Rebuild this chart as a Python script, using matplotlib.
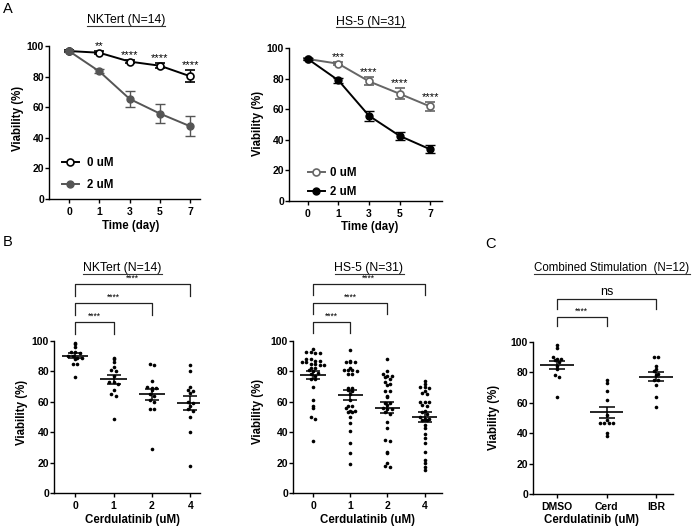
import numpy as np
import matplotlib
matplotlib.use("Agg")
import matplotlib.pyplot as plt
from matplotlib.lines import Line2D

plt.rcParams["font.family"] = ["Liberation Sans", "DejaVu Sans"]
plt.rcParams["axes.linewidth"] = 1.0

W, H = 692, 528  # output size in pixels

# Panel A: viability over time, mean and SEM
days = ["0", "1", "3", "5", "7"]
nk_ctrl = [96.7, 95.6, 89.8, 87.1, 80.2]
nk_ctrl_sem = [0.5, 1.0, 1.2, 1.6, 4.0]
nk_cerd = [96.7, 83.4, 65.4, 55.8, 47.5]
nk_cerd_sem = [0.5, 1.3, 5.4, 6.0, 6.5]
nk_time_stars = ["", "**", "****", "****", "****"]

hs_ctrl = [92.8, 89.7, 78.2, 70.1, 61.8]
hs_ctrl_sem = [0.5, 1.0, 2.6, 3.6, 3.0]
hs_cerd = [92.8, 78.8, 55.7, 42.6, 33.8]
hs_cerd_sem = [0.5, 1.8, 3.3, 2.8, 2.6]
hs_time_stars = ["", "***", "****", "****", "****"]

# Panel B: viability at each dose, one value per sample
doses = ["0", "1", "2", "4"]
nk_dose_0 = [99, 98, 96, 93, 93, 92, 90, 90, 89, 89, 88, 85, 85, 76]
nk_dose_1 = [89, 88, 86, 83, 81, 80, 77, 73, 73, 72, 68, 65, 64, 49]
nk_dose_2 = [85, 84, 74, 70, 69, 69, 68, 65, 64, 61, 60, 55, 55, 29]
nk_dose_4 = [84, 80, 70, 68, 67, 66, 60, 59, 57, 55, 54, 50, 40, 18]

hs_dose_0 = [95, 93, 93, 92, 92, 88, 88, 87, 87, 86, 86, 85, 85, 84, 84,
             82, 82, 81, 80, 79, 78, 77, 75, 75, 70, 61, 57, 56, 50, 49, 34]
hs_dose_1 = [94, 87, 86, 86, 86, 82, 81, 81, 81, 80, 78, 78, 69, 69, 68,
             67, 65, 61, 57, 57, 56, 54, 54, 53, 53, 50, 46, 41, 33, 26, 19]
hs_dose_2 = [88, 80, 78, 77, 77, 76, 75, 73, 72, 71, 67, 67, 64, 63, 59,
             59, 58, 56, 55, 55, 53, 52, 47, 43, 35, 34, 27, 26, 20, 18, 17]
hs_dose_4 = [74, 72, 70, 70, 69, 67, 66, 65, 60, 60, 60, 58, 57, 54, 53,
             52, 50, 49, 49, 48, 48, 45, 43, 39, 36, 33, 27, 22, 20, 17, 15]
dose_pairs = [(0, 1), (0, 2), (0, 3)]
dose_stars = ["****", "****", "****"]

# Panel C: combined stimulation
treatments = ["DMSO", "Cerd", "IBR"]
comb_dmso = [98, 96, 90, 89, 89, 88, 87, 84, 82, 78, 77, 64]
comb_cerd = [75, 73, 68, 62, 52, 49, 47, 47, 47, 47, 40, 38]
comb_ibr = [90, 90, 84, 82, 81, 79, 78, 75, 75, 72, 64, 57]
comb_pairs = [(0, 1), (0, 2)]
comb_stars = ["****", "ns"]


fig = plt.figure(figsize=(W / 100, H / 100), dpi=100)
titles = []


def fig_xy(x_px, y_px):
    return x_px / W, 1 - y_px / H


def add_axes_px(left, top, right, bottom):
    return fig.add_axes([left / W, 1 - bottom / H, (right - left) / W, (bottom - top) / H])


def style_axes(ax, labels, xlim, xlabel, xlabel_px, ylabel_px):
    ax.spines[["top", "right"]].set_visible(False)
    ax.set_xlim(*xlim)
    ax.set_ylim(0, 100)
    ax.set_xticks(range(len(labels)), labels)
    ax.set_yticks(range(0, 101, 20))
    ax.tick_params(length=2.6, width=1, labelsize=7.5)
    ax.tick_params(axis="x", pad=3)
    ax.tick_params(axis="y", pad=1)
    for lab in ax.get_xticklabels() + ax.get_yticklabels():
        lab.set_fontweight("bold")
    ax.set_xlabel(xlabel, fontsize=8.3, fontweight="bold")
    ax.set_ylabel("Viability (%)", fontsize=8.3, fontweight="bold")
    ax.xaxis.set_label_coords(*fig_xy(xlabel_px[0], xlabel_px[1] - 5.5), transform=fig.transFigure)
    ax.yaxis.set_label_coords(*fig_xy(ylabel_px[0] + 5.5, ylabel_px[1]), transform=fig.transFigure)


def title_px(text, x, baseline, size=8.8):
    t = fig.text(*fig_xy(x, baseline), text, ha="center", va="baseline", fontsize=size)
    titles.append((t, baseline))


def time_panel(ax, ctrl, ctrl_sem, cerd, cerd_sem, stars, ctrl_color, cerd_color, legend_px, spacing, textpad):
    x = np.arange(len(days))
    ax.errorbar(x, ctrl, yerr=ctrl_sem, color=ctrl_color, marker="o", ms=5, mfc="white", mew=1.2,
                lw=1.4, elinewidth=1, capsize=3.5, capthick=1, clip_on=False, zorder=3)
    ax.errorbar(x, cerd, yerr=cerd_sem, color=cerd_color, marker="o", ms=5, lw=1.4,
                elinewidth=1, capsize=3.5, capthick=1, clip_on=False, zorder=4)
    for xi, v, e, s in zip(x, ctrl, ctrl_sem, stars):
        if s:
            ax.text(xi, v + e, s, ha="center", va="bottom", fontsize=8)
    handles = [Line2D([], [], color=ctrl_color, marker="o", ms=5, mfc="white", mew=1.2, lw=1.4),
               Line2D([], [], color=cerd_color, marker="o", ms=5, lw=1.4)]
    ax.legend(handles, ["0 uM", "2 uM"], loc="lower left", bbox_to_anchor=fig_xy(*legend_px),
              bbox_transform=fig.transFigure, frameon=False, prop=dict(size=8.3, weight="bold"),
              handlelength=1.45, handletextpad=textpad, labelspacing=spacing, borderpad=0, borderaxespad=0)


def swarm_x(values, center, step, bin_size=2.5):
    v = np.asarray(values, dtype=float)
    rows = np.round(v / bin_size)
    x = np.full(len(v), float(center))
    for r in np.unique(rows):
        idx = np.flatnonzero(rows == r)
        x[idx] += (np.arange(len(idx)) - (len(idx) - 1) / 2) * step
    return x


def dot_panel(ax, groups, step, cap, pairs, stars, base, gap, leg):
    for i, vals in enumerate(groups):
        vals = np.asarray(vals, dtype=float)
        ax.plot(swarm_x(vals, i, step), vals, "o", color="black", ms=2.6, mew=0, clip_on=False, zorder=3)
        mean = vals.mean()
        sem = vals.std(ddof=1) / np.sqrt(len(vals))
        ax.hlines(mean, i - 0.34, i + 0.34, color="black", lw=1.2, zorder=4)
        ax.errorbar(i, mean, yerr=sem, fmt="none", ecolor="black", elinewidth=1.1,
                    capsize=cap, capthick=1.1, zorder=4)
    for k, ((a, b), s) in enumerate(zip(pairs, stars)):
        y = base + k * gap
        ax.plot([a, a, b, b], [y - leg, y, y, y - leg], color="#222222", lw=0.9, clip_on=False)
        ax.text((a + b) / 2, y + 0.8, s, ha="center", va="bottom",
                fontsize=9 if s == "ns" else 6.2, clip_on=False)


# --- A ---
ax = add_axes_px(49, 46, 200, 199)
time_panel(ax, nk_ctrl, nk_ctrl_sem, nk_cerd, nk_cerd_sem, nk_time_stars,
           "black", "#555555", (62, 191), 0.83, 0.75)
style_axes(ax, days, (-0.66, 4.32), "Time (day)", (131, 225), (19, 118.5))
title_px("NKTert (N=14)", 126, 23.5)

ax = add_axes_px(289, 48, 442, 201)
time_panel(ax, hs_ctrl, hs_ctrl_sem, hs_cerd, hs_cerd_sem, hs_time_stars,
           "#666666", "black", (308, 198), 0.57, 0.45)
style_axes(ax, days, (-0.62, 4.39), "Time (day)", (370, 227), (258, 123.5))
title_px("HS-5 (N=31)", 370, 24.5)

# --- B ---
ax = add_axes_px(54, 341, 200, 493)
dot_panel(ax, [nk_dose_0, nk_dose_1, nk_dose_2, nk_dose_4], 0.117, 5,
          dose_pairs, dose_stars, 112.5, 12.5, 7.6)
style_axes(ax, doses, (-0.55, 3.25), "Cerdulatinib (uM)", (132.5, 519), (22, 412.5))
title_px("NKTert (N=14)", 122.5, 271.5)

ax = add_axes_px(293, 341, 442, 493)
dot_panel(ax, [hs_dose_0, hs_dose_1, hs_dose_2, hs_dose_4], 0.12, 5,
          dose_pairs, dose_stars, 112.5, 12.5, 7.0)
style_axes(ax, doses, (-0.54, 3.47), "Cerdulatinib (uM)", (368, 519), (259, 411))
title_px("HS-5 (N=31)", 369, 271.5)

# --- C ---
ax = add_axes_px(533, 342, 673, 494)
dot_panel(ax, [comb_dmso, comb_cerd, comb_ibr], 0.09, 6,
          comb_pairs, comb_stars, 116.4, 11.6, 6.2)
style_axes(ax, treatments, (-0.485, 2.34), "Cerdulatinib (uM)", (591.5, 519), (495, 417))
title_px("Combined Stimulation  (N=12)", 612, 271.5, size=8.3)

for letter, x, y in [("A", 8, 9), ("B", 8, 242), ("C", 490, 244)]:
    fig.text(*fig_xy(x, y), letter, ha="center", va="center", fontsize=10.5)

fig.canvas.draw()
for t, baseline in titles:
    bb = t.get_window_extent()
    y = 1 - (baseline + 2) / H
    fig.add_artist(Line2D([bb.x0 / W, bb.x1 / W], [y, y], transform=fig.transFigure,
                          color="#333333", lw=0.8))

fig.savefig("out.png", dpi=100)
